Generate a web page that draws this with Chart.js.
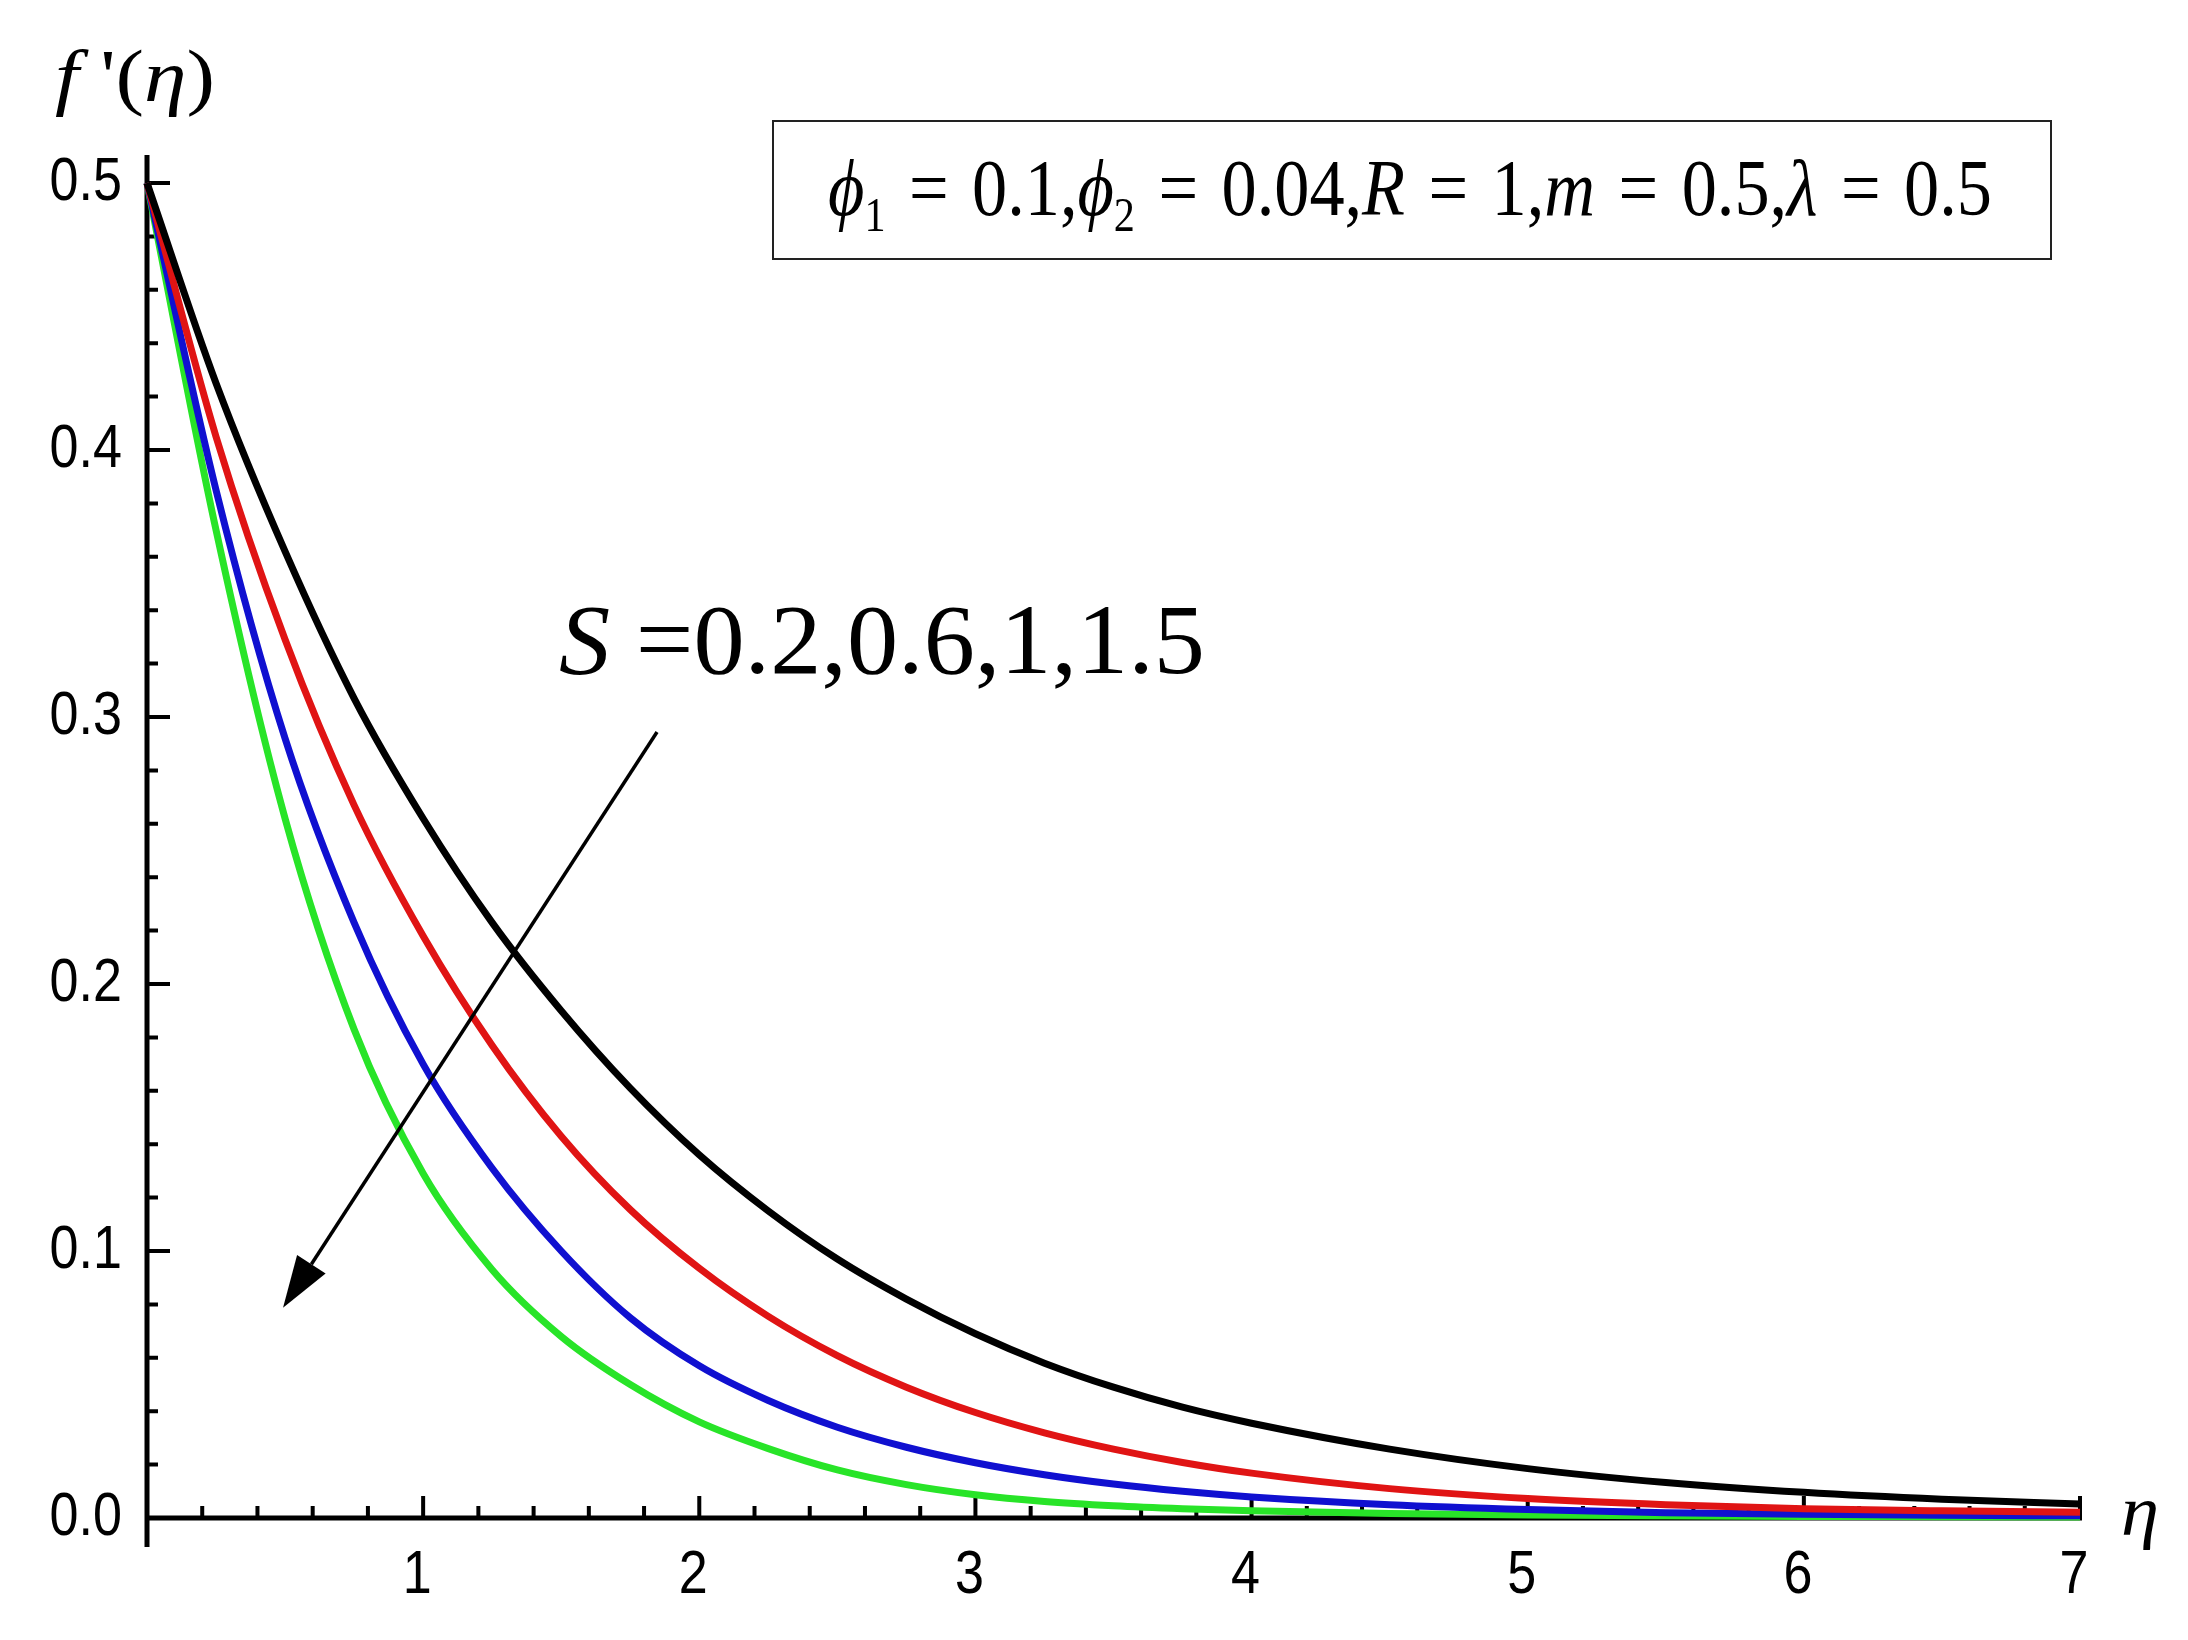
<!DOCTYPE html>
<html>
<head>
<meta charset="utf-8">
<script src="https://cdn.jsdelivr.net/npm/chart.js@4.4.1/dist/chart.umd.min.js"></script>
<style>
  html, body { margin: 0; padding: 0; background: #fff; }
  #wrap { width: 2188px; height: 1640px; }
</style>
</head>
<body>
<div id="wrap"><canvas id="grafico" width="2188" height="1640"></canvas></div>
<script>
/* Datos: f'(η) para S = 0.2, 0.6, 1, 1.5 */
var eta = [0, 0.25, 0.5, 0.75, 1, 1.25, 1.5, 1.75, 2, 2.25, 2.5, 2.75, 3, 3.25, 3.5, 3.75, 4, 4.5, 5, 5.5, 6, 6.5, 7];
var fS02 = [0.5, 0.425, 0.362, 0.307, 0.262, 0.223, 0.190, 0.161, 0.136, 0.115, 0.097, 0.082, 0.069, 0.058, 0.049, 0.0415, 0.0355, 0.0258, 0.0185, 0.0133, 0.0096, 0.007, 0.0052];
var fS06 = [0.5, 0.405, 0.329, 0.267, 0.218, 0.177, 0.143, 0.1155, 0.0935, 0.0755, 0.0608, 0.049, 0.0395, 0.0319, 0.0258, 0.0208, 0.0168, 0.011, 0.0073, 0.005, 0.0035, 0.0027, 0.0022];
var fS1  = [0.5, 0.385, 0.292, 0.223, 0.170, 0.131, 0.100, 0.075, 0.057, 0.044, 0.034, 0.0265, 0.0207, 0.0162, 0.0127, 0.010, 0.0079, 0.005, 0.0032, 0.002, 0.0014, 0.001, 0.0008];
var fS15 = [0.5, 0.370, 0.262, 0.183, 0.129, 0.093, 0.068, 0.050, 0.036, 0.026, 0.018, 0.0125, 0.0087, 0.0062, 0.0046, 0.0035, 0.0027, 0.0017, 0.0011, 0.0008, 0.0006, 0.0005, 0.0004];
var xTicks = [1, 2, 3, 4, 5, 6, 7];
var yTicks = ['0.0', '0.1', '0.2', '0.3', '0.4', '0.5'];

/* Une eta con una serie en puntos {x, y} */
function puntos(serie) {
    return eta.map(function (e, i) { return { x: e, y: serie[i] }; });
}

function serieLinea(serie, color) {
    return {
        data: puntos(serie),
        borderColor: color,
        borderWidth: 7,
        pointRadius: 0,
        cubicInterpolationMode: 'monotone',
        clip: false
    };
}

/* Dibuja texto por tramos (cursiva, subíndice) ajustado a un ancho dado */
function fuente(r, size) {
    var s = r.sub ? Math.round(size * 0.6) : size;
    return (r.i ? 'italic ' : '') + s + "px 'Liberation Serif', 'Times New Roman', serif";
}
function textoTramos(ctx, tramos, x, base, size, ancho) {
    var total = 0;
    tramos.forEach(function (r) { ctx.font = fuente(r, size); r.w = ctx.measureText(r.t).width; total += r.w; });
    ctx.save();
    ctx.translate(x, base);
    ctx.scale(ancho / total, 1);
    ctx.fillStyle = '#000';
    ctx.textBaseline = 'alphabetic';
    ctx.textAlign = 'left';
    var cx = 0;
    tramos.forEach(function (r) {
        ctx.font = fuente(r, size);
        ctx.fillText(r.t, cx, r.sub ? size * 0.2 : 0);
        cx += r.w;
    });
    ctx.restore();
}

/* Etiqueta de marca estrecha (la fuente del original es condensada) */
function etiquetaEstrecha(ctx, txt, x, base, align) {
    ctx.save();
    ctx.translate(x, base);
    ctx.scale(0.84, 1);
    ctx.font = "62px 'Liberation Sans', Arial, sans-serif";
    ctx.fillStyle = '#000';
    ctx.textAlign = align;
    ctx.textBaseline = 'alphabetic';
    ctx.fillText(txt, 0, 0);
    ctx.restore();
}

/* Ejes estilo Mathematica: líneas y marcas dibujadas a mano */
var ejes = {
    id: 'ejes',
    beforeDatasetsDraw: function (chart) {
        var ctx = chart.ctx, sx = chart.scales.x, sy = chart.scales.y;
        var x0 = sx.getPixelForValue(0), y0 = sy.getPixelForValue(0);
        ctx.save();
        ctx.strokeStyle = '#000';
        ctx.lineWidth = 5;
        ctx.beginPath();
        ctx.moveTo(x0, sy.getPixelForValue(0.5) - 28);
        ctx.lineTo(x0, y0 + 29);
        ctx.moveTo(x0, y0);
        ctx.lineTo(sx.getPixelForValue(7) + 2, y0);
        ctx.stroke();
        ctx.lineWidth = 4;
        ctx.beginPath();
        for (var i = 1; i <= 35; i++) {
            var px = sx.getPixelForValue(i * 0.2);
            var lx = (i % 5 === 0) ? 22 : 12;
            ctx.moveTo(px, y0);
            ctx.lineTo(px, y0 - lx);
        }
        for (var j = 1; j <= 25; j++) {
            var py = sy.getPixelForValue(j * 0.02);
            var ly = (j % 5 === 0) ? 23 : 11;
            ctx.moveTo(x0, py);
            ctx.lineTo(x0 + ly, py);
        }
        ctx.stroke();
        ctx.restore();
    },
    afterDraw: function (chart) {
        var ctx = chart.ctx, sx = chart.scales.x, sy = chart.scales.y;

        /* Números de los ejes, tomados de las marcas de cada escala */
        sy.ticks.forEach(function (t) {
            etiquetaEstrecha(ctx, t.value.toFixed(1), sx.left - 25, sy.getPixelForValue(t.value) + 17, 'right');
        });
        sx.ticks.forEach(function (t) {
            etiquetaEstrecha(ctx, String(t.value), sx.getPixelForValue(t.value) - 6, sy.bottom + 75, 'center');
        });

        /* Título del eje Y y del eje X */
        textoTramos(ctx, [{ t: 'f', i: true }, { t: " '" }, { t: '(' }, { t: 'η', i: true }, { t: ')' }], 55, 101, 74, 160);
        textoTramos(ctx, [{ t: 'η', i: true }], 2121, 1535, 72, 38);

        /* Recuadro con los parámetros */
        ctx.save();
        ctx.strokeStyle = '#222';
        ctx.lineWidth = 2;
        ctx.strokeRect(773, 121, 1278, 138);
        ctx.restore();
        var eq = ' \u200A= \u200A';
        textoTramos(ctx, [
            { t: 'ϕ', i: true }, { t: '1', sub: true }, { t: eq + '0.1,' },
            { t: 'ϕ', i: true }, { t: '2', sub: true }, { t: eq + '0.04,' },
            { t: 'R', i: true }, { t: eq + '1,' },
            { t: 'm', i: true }, { t: eq + '0.5,' },
            { t: 'λ', i: true }, { t: eq + '0.5' }
        ], 828, 215, 80, 1164);

        /* Etiqueta S y flecha */
        textoTramos(ctx, [{ t: 'S', i: true }, { t: ' =0.2,0.6,1,1.5' }], 559, 673, 100, 646);
        var ax = sx.getPixelForValue(1.847), ay = sy.getPixelForValue(0.2944);
        var bx = sx.getPixelForValue(0.4926), by = sy.getPixelForValue(0.0787);
        var dx = bx - ax, dy = by - ay, d = Math.sqrt(dx * dx + dy * dy);
        var ux = dx / d, uy = dy / d;
        var hx = bx - ux * 52, hy = by - uy * 52;
        ctx.save();
        ctx.strokeStyle = '#000';
        ctx.fillStyle = '#000';
        ctx.lineWidth = 3.5;
        ctx.beginPath();
        ctx.moveTo(ax, ay);
        ctx.lineTo(hx, hy);
        ctx.stroke();
        ctx.beginPath();
        ctx.moveTo(bx, by);
        ctx.lineTo(hx - uy * 17, hy + ux * 17);
        ctx.lineTo(hx + uy * 17, hy - ux * 17);
        ctx.closePath();
        ctx.fill();
        ctx.restore();
    }
};

new Chart(document.getElementById('grafico'), {
    type: 'line',
    data: {
        datasets: [
            serieLinea(fS02, '#000000'),
            serieLinea(fS06, '#e01414'),
            serieLinea(fS1, '#1010d0'),
            serieLinea(fS15, '#28e428')
        ]
    },
    options: {
        responsive: false,
        devicePixelRatio: 1,
        animation: false,
        layout: { padding: { top: 183, right: 108, left: 0, bottom: 0 } },
        plugins: { legend: { display: false }, tooltip: { enabled: false } },
        scales: {
            x: {
                type: 'linear', min: 0, max: 7,
                grid: { display: false, drawTicks: false },
                border: { display: false },
                afterFit: function (s) { s.height = 122; },
                afterBuildTicks: function (s) { s.ticks = xTicks.map(function (v) { return { value: v }; }); },
                ticks: { display: false }
            },
            y: {
                type: 'linear', min: 0, max: 0.5,
                grid: { display: false, drawTicks: false },
                border: { display: false },
                afterFit: function (s) { s.width = 147; },
                afterBuildTicks: function (s) { s.ticks = yTicks.map(function (t) { return { value: parseFloat(t) }; }); },
                ticks: { display: false }
            }
        }
    },
    plugins: [ejes]
});
</script>
</body>
</html>
